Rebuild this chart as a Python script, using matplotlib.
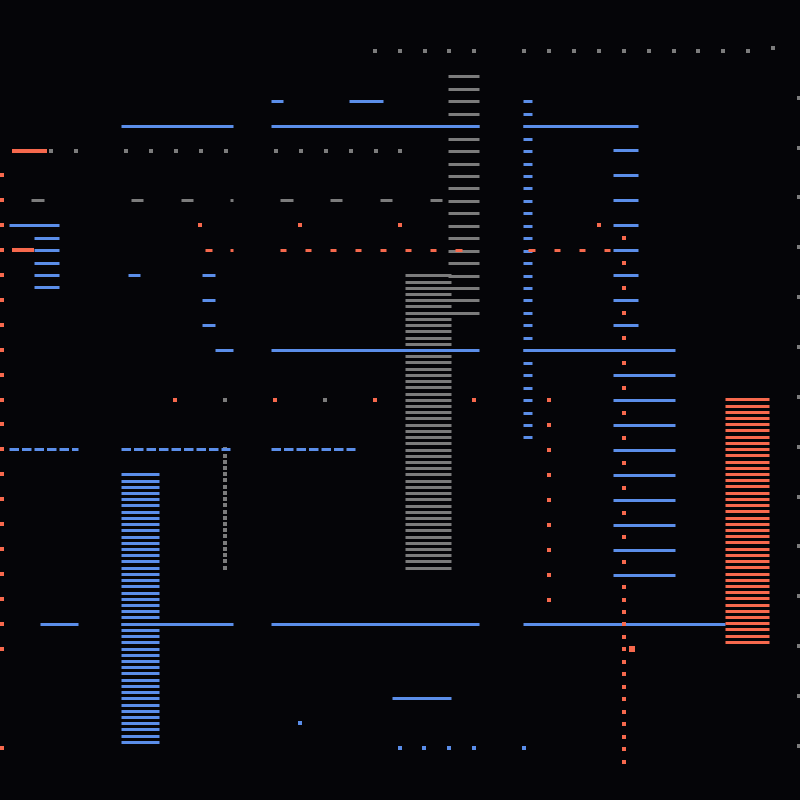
import matplotlib
matplotlib.use('Agg')
import matplotlib.pyplot as plt

plt.rcParams['lines.scale_dashes'] = False

# canvas units: 0..800 both ways, y grows downward
BG = '#050508'
BLUE = '#5b8ee9'
RED = '#f7694d'
GRAY = '#7c7c7c'

# ---- blue ----
blue_segments = [
    (121, 233, 126), (271, 479, 126), (523, 638, 126),
    (271, 283, 101), (349, 383, 101),
    (9, 59, 225),
    (34, 59, 238), (34, 59, 250), (34, 59, 263), (34, 59, 275), (34, 59, 287),
    (128, 140, 275), (202, 215, 275), (202, 215, 300), (202, 215, 325),
    (215, 233, 350), (271, 479, 350), (523, 675, 350),
    (40, 78, 624), (121, 233, 624), (271, 479, 624), (523, 725, 624),
    (392, 451, 698),
]
blue_col_short_y = [150, 175, 200, 225, 250, 275, 300, 325]
blue_col_long_y = [375, 400, 424.5, 449.5, 474.5, 499.5, 524.5, 549.5, 574.5]
blue_narrow_y = [101, 113.5, 126, 138.5, 151, 163.5, 175.5, 188, 200.5, 213,
                 225.5, 238, 250.5, 263, 275.5, 287.5, 300, 312.5, 325, 337.5,
                 350, 362.5, 375, 387.5, 400, 412.5, 424.5, 437]
blue_stack_y = [474.3, 480.5, 486.7, 492.9, 499.2, 505.4, 511.6, 517.8, 524.1, 530.3,
                536.5, 542.7, 548.9, 555.2, 561.4, 567.6, 573.8, 580.0, 586.3, 592.5,
                598.7, 604.9, 611.1, 617.4, 623.6, 629.8, 636.0, 642.3, 648.5, 654.7,
                660.9, 667.1, 673.4, 679.6, 685.8, 692.0, 698.2, 704.5, 710.7, 716.9,
                723.1, 729.3, 735.6, 741.8]
blue_dashed = [(9, 78, 449.3), (121, 230, 449.3), (271, 355, 449.3)]
blue_dots_x = [300, 400, 424, 449, 474, 524]
blue_dots_y = [723.3, 748.3, 748.3, 748.3, 748.3, 748.3]

# ---- gray ----
gray_upper_y = [76, 88.5, 101, 113.5, 126, 138.5, 151, 163.5, 175.5, 188,
                200.5, 213, 225.5, 238, 250.5, 263, 275.5, 287.5, 300, 312.5]
gray_lower_y = [275.3, 281.5, 287.7, 293.9, 300.2, 306.4, 312.6, 318.8, 325.1, 331.3,
                337.5, 343.7, 349.9, 356.2, 362.4, 368.6, 374.8, 381.0, 387.3, 393.5,
                399.7, 405.9, 412.1, 418.4, 424.6, 430.8, 437.0, 443.3, 449.5, 455.7,
                461.9, 468.1, 474.4, 480.6, 486.8, 493.0, 499.2, 505.5, 511.7, 517.9,
                524.1, 530.3, 536.6, 542.8, 549.0, 555.2, 561.4, 567.7]
gray_dashes = [(31, 44), (131, 143), (181, 193), (230, 233),
               (280, 293), (330, 342), (380, 392), (430, 442)]
gray_row150_x = [51, 76, 126, 151, 176, 201, 226, 276, 301, 326, 351, 376, 400]
gray_row51_x = [375, 400, 424.5, 449, 474, 524, 549, 574, 599, 624, 649, 673.5, 698, 723, 748]
gray_edge_y = [97.5, 147.5, 197, 247, 297, 347, 396.5, 446.5, 496.5, 546, 596, 645.5, 695.5, 745.5]
gray_vert_y = [449.3, 455.5, 461.7, 467.9, 474.1, 480.4, 486.6, 492.8, 499.0, 505.2,
               511.5, 517.7, 523.9, 530.1, 536.4, 542.6, 548.8, 555.0, 561.2, 567.5]
gray_misc_x = [225, 325, 773]
gray_misc_y = [400, 400, 48.3]

# ---- red ----
red_bars = [(12, 47, 150.7), (12, 34, 250.3)]
red_edge_y = [175.3, 200.3, 225.3, 250.3, 275.3, 300.3, 325.3, 350.3, 375.3, 399.7,
              424.3, 449.3, 474.3, 499.3, 524.3, 549.3, 574.3, 599.3, 624.3, 648.7, 748.3]
red_misc_x = [200, 300, 400, 599, 175, 275, 375, 474]
red_misc_y = [225.3, 225.3, 225.3, 225.3, 399.7, 399.7, 399.7, 399.7]
red_dashes = [(205, 212), (230, 233), (280, 286), (305, 311), (330, 336), (355, 361),
              (380, 386), (405, 411), (430, 436), (455, 462), (528, 535), (554, 560),
              (579, 585), (604, 610)]
red_col549_y = [399.5, 424.5, 449.5, 474.5, 499.5, 524.5, 549.5, 574.5, 599.5]
red_col624_y = [238, 262.5, 287.5, 312.5, 337.5, 362.5, 387.5, 412.5, 437.5, 462.5,
                487.5, 512.5, 537, 561.5, 586.5, 599.5, 611.5, 624, 636.5, 649,
                661.5, 673.5, 686.5, 698.5, 711.5, 723.5, 736.5, 748.5, 761.5]
red_stack_y = [399.3, 405.5, 411.7, 417.9, 424.2, 430.4, 436.6, 442.8, 449.1, 455.3,
               461.5, 467.7, 473.9, 480.2, 486.4, 492.6, 498.8, 505.0, 511.3, 517.5,
               523.7, 529.9, 536.1, 542.4, 548.6, 554.8, 561.0, 567.2, 573.5, 579.7,
               585.9, 592.1, 598.3, 604.6, 610.8, 617.0, 623.2, 629.4, 635.7, 641.9]

fig = plt.figure(figsize=(8, 8), dpi=100, facecolor=BG)
ax = fig.add_axes([0, 0, 1, 1])
ax.set_facecolor(BG)
ax.set_xlim(0, 800)
ax.set_ylim(800, 0)
ax.axis('off')

LW = 2.16   # 3 px
DOT = 4.7   # 3 px square

def bars(y, x0, x1, color, lw=LW, z=2):
    ax.hlines(y, x0, x1, colors=color, linewidth=lw, capstyle='butt', zorder=z)

def dots(x, y, color, s=DOT, z=3):
    ax.scatter(x, y, s=s, marker='s', color=color, linewidths=0, zorder=z)

# gray
bars(gray_upper_y, 448, 479, GRAY, z=1)
bars(gray_lower_y, 405, 451, GRAY, z=1)
bars([200.3] * len(gray_dashes), [d[0] for d in gray_dashes], [d[1] for d in gray_dashes], GRAY)
dots(gray_row150_x, [150.7] * len(gray_row150_x), GRAY)
dots(gray_row51_x, [51.3] * len(gray_row51_x), GRAY)
dots([798.5] * len(gray_edge_y), gray_edge_y, GRAY)
dots([225.3] * len(gray_vert_y), gray_vert_y, GRAY, z=1)
dots(gray_misc_x, gray_misc_y, GRAY)

# blue
bars([s[2] for s in blue_segments], [s[0] for s in blue_segments], [s[1] for s in blue_segments], BLUE)
bars(blue_col_short_y, 613, 638, BLUE)
bars(blue_col_long_y, 613, 675, BLUE)
bars(blue_narrow_y, 523, 532, BLUE)
bars(blue_stack_y, 121, 159, BLUE)
ax.hlines([s[2] for s in blue_dashed], [s[0] for s in blue_dashed], [s[1] for s in blue_dashed],
          colors=BLUE, linewidth=LW, linestyles=(0, (6.84, 2.16)), zorder=2)
dots(blue_dots_x, blue_dots_y, BLUE)

# red
bars([b[2] for b in red_bars], [b[0] for b in red_bars], [b[1] for b in red_bars], RED, lw=2.9, z=3)
bars([250.3] * len(red_dashes), [d[0] for d in red_dashes], [d[1] for d in red_dashes], RED, z=3)
bars(red_stack_y, 725, 769, RED)
dots([1.5] * len(red_edge_y), red_edge_y, RED)
dots(red_misc_x, red_misc_y, RED)
dots([549.3] * len(red_col549_y), red_col549_y, RED)
dots([624.3] * len(red_col624_y), red_col624_y, RED, z=4)
dots([632], [649], RED, s=16)

fig.savefig('out.png', dpi=100, facecolor=BG)
